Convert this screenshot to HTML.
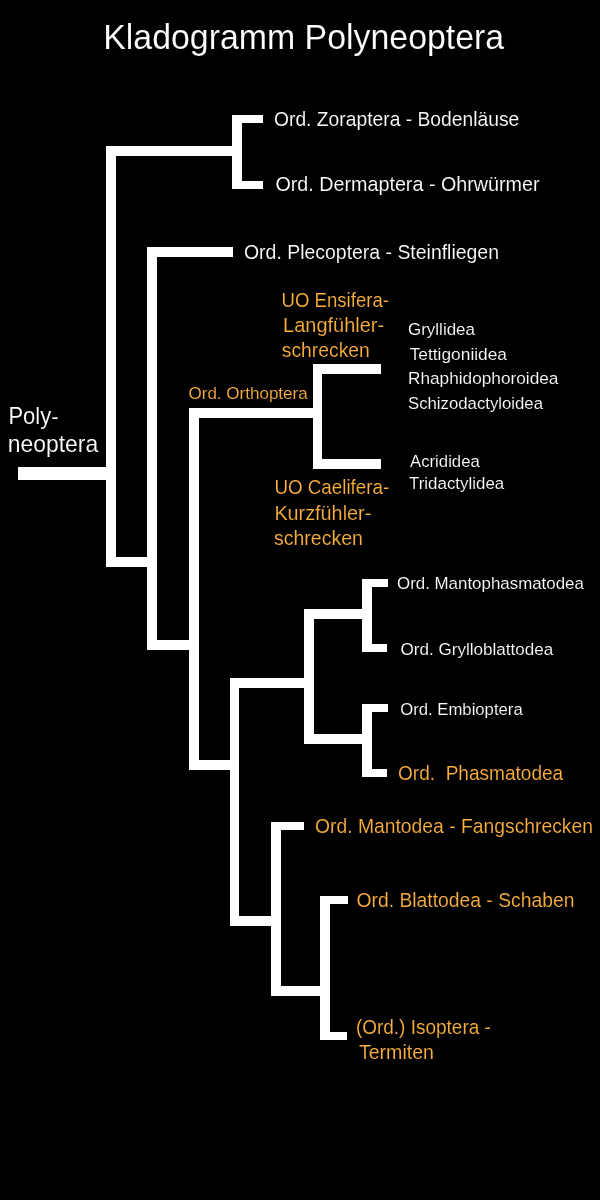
<!DOCTYPE html><html><head><meta charset="utf-8"><style>html,body{margin:0;padding:0;background:#000;width:600px;height:1200px;overflow:hidden}svg{display:block;will-change:transform}text{font-family:"Liberation Sans",sans-serif;stroke:#000;stroke-width:0.12px;paint-order:fill stroke}</style></head><body>
<svg width="600" height="1200" viewBox="0 0 600 1200">
<rect x="0" y="0" width="600" height="1200" fill="#000"/>
<g fill="#fff">
<rect x="18" y="467" width="98" height="13"/>
<rect x="106" y="146" width="10" height="421"/>
<rect x="106" y="146" width="136" height="10"/>
<rect x="106" y="557" width="51" height="10"/>
<rect x="232" y="115" width="10" height="74"/>
<rect x="232" y="115" width="31" height="8"/>
<rect x="232" y="181" width="31" height="8"/>
<rect x="147" y="247" width="10" height="403"/>
<rect x="147" y="247" width="86" height="10"/>
<rect x="147" y="640" width="52" height="10"/>
<rect x="189" y="408" width="10" height="362"/>
<rect x="189" y="408" width="133" height="10"/>
<rect x="189" y="760" width="50" height="10"/>
<rect x="313" y="364" width="9" height="105"/>
<rect x="313" y="364" width="68" height="10"/>
<rect x="313" y="459" width="68" height="10"/>
<rect x="230" y="678" width="9" height="248"/>
<rect x="230" y="678" width="84" height="10"/>
<rect x="230" y="916" width="51" height="10"/>
<rect x="304" y="609" width="10" height="135"/>
<rect x="304" y="609" width="68" height="10"/>
<rect x="304" y="734" width="68" height="10"/>
<rect x="362" y="579" width="10" height="73"/>
<rect x="362" y="579" width="26" height="8"/>
<rect x="362" y="644" width="25" height="8"/>
<rect x="362" y="704" width="10" height="73"/>
<rect x="362" y="704" width="26" height="8"/>
<rect x="362" y="769" width="25" height="8"/>
<rect x="271" y="822" width="10" height="174"/>
<rect x="271" y="822" width="33" height="8"/>
<rect x="271" y="986" width="59" height="10"/>
<rect x="320" y="896" width="10" height="144"/>
<rect x="320" y="896" width="28" height="8"/>
<rect x="320" y="1032" width="27" height="8"/>
</g>
<text x="103.20" y="49.10" font-size="34.30" fill="#ffffff" textLength="401.00" lengthAdjust="spacingAndGlyphs">Kladogramm Polyneoptera</text>
<text x="274.00" y="125.70" font-size="19.90" fill="#ffffff" textLength="245.30" lengthAdjust="spacingAndGlyphs">Ord. Zoraptera - Bodenläuse</text>
<text x="275.40" y="191.20" font-size="19.90" fill="#ffffff" textLength="264.20" lengthAdjust="spacingAndGlyphs">Ord. Dermaptera - Ohrwürmer</text>
<text x="244.00" y="259.00" font-size="19.90" fill="#ffffff" textLength="255.00" lengthAdjust="spacingAndGlyphs">Ord. Plecoptera - Steinfliegen</text>
<text x="281.50" y="307.00" font-size="19.90" fill="#f9af3e" textLength="107.50" lengthAdjust="spacingAndGlyphs">UO Ensifera-</text>
<text x="283.10" y="332.00" font-size="19.90" fill="#f9af3e" textLength="101.00" lengthAdjust="spacingAndGlyphs">Langfühler-</text>
<text x="281.80" y="357.00" font-size="19.90" fill="#f9af3e" textLength="88.00" lengthAdjust="spacingAndGlyphs">schrecken</text>
<text stroke-width="0" x="408.00" y="335.40" font-size="16.70" fill="#ffffff" textLength="67.00" lengthAdjust="spacingAndGlyphs">Gryllidea</text>
<text stroke-width="0" x="409.70" y="360.30" font-size="16.70" fill="#ffffff" textLength="97.30" lengthAdjust="spacingAndGlyphs">Tettigoniidea</text>
<text stroke-width="0" x="408.00" y="384.10" font-size="16.70" fill="#ffffff" textLength="150.40" lengthAdjust="spacingAndGlyphs">Rhaphidophoroidea</text>
<text stroke-width="0" x="408.00" y="408.50" font-size="16.70" fill="#ffffff" textLength="135.00" lengthAdjust="spacingAndGlyphs">Schizodactyloidea</text>
<text stroke-width="0" x="188.50" y="399.00" font-size="17.40" fill="#f9af3e" textLength="119.20" lengthAdjust="spacingAndGlyphs">Ord. Orthoptera</text>
<text x="8.40" y="423.80" font-size="23.40" fill="#ffffff" textLength="50.20" lengthAdjust="spacingAndGlyphs">Poly-</text>
<text x="7.80" y="452.20" font-size="23.40" fill="#ffffff" textLength="90.40" lengthAdjust="spacingAndGlyphs">neoptera</text>
<text stroke-width="0" x="410.00" y="467.40" font-size="16.70" fill="#ffffff" textLength="69.80" lengthAdjust="spacingAndGlyphs">Acrididea</text>
<text stroke-width="0" x="409.00" y="489.40" font-size="16.70" fill="#ffffff" textLength="95.20" lengthAdjust="spacingAndGlyphs">Tridactylidea</text>
<text x="274.40" y="494.30" font-size="19.90" fill="#f9af3e" textLength="114.85" lengthAdjust="spacingAndGlyphs">UO Caelifera-</text>
<text x="274.40" y="519.50" font-size="19.90" fill="#f9af3e" textLength="96.85" lengthAdjust="spacingAndGlyphs">Kurzfühler-</text>
<text x="274.00" y="545.00" font-size="19.90" fill="#f9af3e" textLength="88.90" lengthAdjust="spacingAndGlyphs">schrecken</text>
<text stroke-width="0" x="397.00" y="589.30" font-size="16.70" fill="#ffffff" textLength="186.90" lengthAdjust="spacingAndGlyphs">Ord. Mantophasmatodea</text>
<text stroke-width="0" x="400.60" y="655.30" font-size="16.70" fill="#ffffff" textLength="152.65" lengthAdjust="spacingAndGlyphs">Ord. Grylloblattodea</text>
<text stroke-width="0" x="400.20" y="714.60" font-size="16.70" fill="#ffffff" textLength="122.50" lengthAdjust="spacingAndGlyphs">Ord. Embioptera</text>
<text x="398.00" y="780.40" font-size="19.90" fill="#f9af3e" textLength="165.20" lengthAdjust="spacingAndGlyphs">Ord.  Phasmatodea</text>
<text x="315.00" y="833.10" font-size="19.90" fill="#f9af3e" textLength="278.00" lengthAdjust="spacingAndGlyphs">Ord. Mantodea - Fangschrecken</text>
<text x="356.50" y="906.80" font-size="19.90" fill="#f9af3e" textLength="217.90" lengthAdjust="spacingAndGlyphs">Ord. Blattodea - Schaben</text>
<text x="355.90" y="1033.70" font-size="19.90" fill="#f9af3e" textLength="135.00" lengthAdjust="spacingAndGlyphs">(Ord.) Isoptera -</text>
<text x="358.90" y="1058.90" font-size="19.90" fill="#f9af3e" textLength="75.10" lengthAdjust="spacingAndGlyphs">Termiten</text>
</svg></body></html>
